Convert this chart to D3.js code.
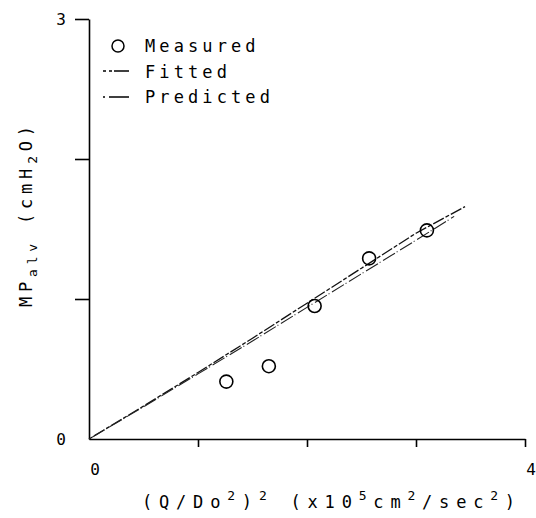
<!DOCTYPE html>
<html>
<head>
<meta charset="utf-8">
<script src="https://cdn.jsdelivr.net/npm/d3@7"></script>
<style>
  body { margin: 0; background: #fff; }
  svg text { font-family: "DejaVu Sans Mono", monospace; fill: #000; }
</style>
</head>
<body>
<svg id="chart" width="536" height="518"></svg>
<script>
// measured points
const measuredX = [1.26, 1.65, 2.07, 2.57, 3.10];
const measuredY = [0.41, 0.52, 0.95, 1.29, 1.49];

// fitted and predicted curves
const fittedX = [0, 0.5, 1, 1.5, 2, 2.5, 3, 3.45];
const fittedY = [0, 0.235, 0.475, 0.72, 0.97, 1.22, 1.47, 1.66];
const predictedX = [0, 0.5, 1, 1.5, 2, 2.5, 3, 3.35];
const predictedY = [0, 0.23, 0.465, 0.70, 0.94, 1.18, 1.42, 1.59];

const xTicks = [0, 1, 2, 3, 4];
const yTicks = [0, 1, 2, 3];
const xTickLabels = [0, 4];
const yTickLabels = [0, 3];

const legendNames = ["Measured", "Fitted", "Predicted"];

const svg = d3.select("#chart");

const x = d3.scaleLinear().domain([0, 4]).range([89, 525]);
const y = d3.scaleLinear().domain([0, 3]).range([439, 19]);

//axes, no labels from d3 - the plot only labels the ends
const xAxis = svg.append("g")
  .attr("transform", `translate(0,${y(0)})`)
  .call(d3.axisBottom(x).tickValues(xTicks).tickSize(8).tickSizeOuter(0).tickFormat(""));
const yAxis = svg.append("g")
  .attr("transform", `translate(${x(0)},0)`)
  .call(d3.axisLeft(y).tickValues(yTicks).tickSize(14).tickSizeOuter(0).tickFormat(""));

[xAxis, yAxis].forEach((a) => {
  a.selectAll("path, line").attr("stroke", "#000").attr("stroke-width", 1.6);
});
//no tick at origin
xAxis.selectAll(".tick").filter((d) => d === 0).remove();
yAxis.selectAll(".tick").filter((d) => d === 0).remove();

svg.selectAll(".xlab")
  .data(xTickLabels)
  .enter()
  .append("text")
  .attr("x", (d) => x(d) + 6)
  .attr("y", 475)
  .attr("text-anchor", "middle")
  .attr("font-size", 16)
  .text((d) => d);

svg.selectAll(".ylab")
  .data(yTickLabels)
  .enter()
  .append("text")
  .attr("x", 66)
  .attr("y", (d) => y(d) + 6)
  .attr("text-anchor", "end")
  .attr("font-size", 16)
  .text((d) => d);

//the two curves
const line = d3.line().x((d) => x(d[0])).y((d) => y(d[1]));

svg.append("path")
  .datum(d3.zip(fittedX, fittedY))
  .attr("d", line)
  .attr("fill", "none")
  .attr("stroke", "#111")
  .attr("stroke-width", 1.3)
  .attr("stroke-dasharray", "4,2,12,2");

svg.append("path")
  .datum(d3.zip(predictedX, predictedY))
  .attr("d", line)
  .attr("fill", "none")
  .attr("stroke", "#222")
  .attr("stroke-width", 1.1)
  .attr("stroke-dasharray", "1,3,14,2");

//measured points
svg.selectAll(".pt")
  .data(d3.zip(measuredX, measuredY))
  .enter()
  .append("circle")
  .attr("cx", (d) => x(d[0]))
  .attr("cy", (d) => y(d[1]))
  .attr("r", 6.5)
  .attr("fill", "none")
  .attr("stroke", "#000")
  .attr("stroke-width", 1.6);

//legend
const legend = svg.append("g");
legend.append("circle")
  .attr("cx", 118).attr("cy", 46).attr("r", 6)
  .attr("fill", "none").attr("stroke", "#000").attr("stroke-width", 1.5);
legend.append("line")
  .attr("x1", 103).attr("x2", 129).attr("y1", 71).attr("y2", 71)
  .attr("stroke", "#000").attr("stroke-width", 1.3)
  .attr("stroke-dasharray", "3,3,3,2,16");
legend.append("line")
  .attr("x1", 103).attr("x2", 129).attr("y1", 97).attr("y2", 97)
  .attr("stroke", "#000").attr("stroke-width", 1.3)
  .attr("stroke-dasharray", "2,4,20");
legend.selectAll("text")
  .data(legendNames)
  .enter()
  .append("text")
  .attr("x", 145)
  .attr("y", (d, i) => 52 + i * 25.5)
  .attr("font-size", 17)
  .attr("letter-spacing", 4.1)
  .text((d) => d);

//text with raised/lowered pieces, dy is relative so keep track of the shift
function shiftedText(g, parts, shift) {
  let cur = 0;
  parts.forEach(([t, s]) => {
    const want = s ? shift : 0;
    g.append("tspan")
      .attr("font-size", s ? 13 : 17)
      .attr("dy", want - cur)
      .text(t);
    cur = want;
  });
}

//x title with superscripts
const xt = svg.append("text")
  .attr("x", 142)
  .attr("y", 508)
  .attr("font-size", 17)
  .attr("letter-spacing", 6.8);
shiftedText(xt, [["(Q/Do", 0], ["2", 1], [")", 0], ["2", 1], [" (x10", 0], ["5", 1], ["cm", 0], ["2", 1], ["/sec", 0], ["2", 1], [")", 0]], -8);

//y title, rotated
const yt = svg.append("text")
  .attr("transform", "translate(32,307) rotate(-90)")
  .attr("font-size", 17)
  .attr("letter-spacing", 4.8);
shiftedText(yt, [["MP", 0], ["alv", 1], [" (cmH", 0], ["2", 1], ["O)", 0]], 5);
</script>
</body>
</html>
